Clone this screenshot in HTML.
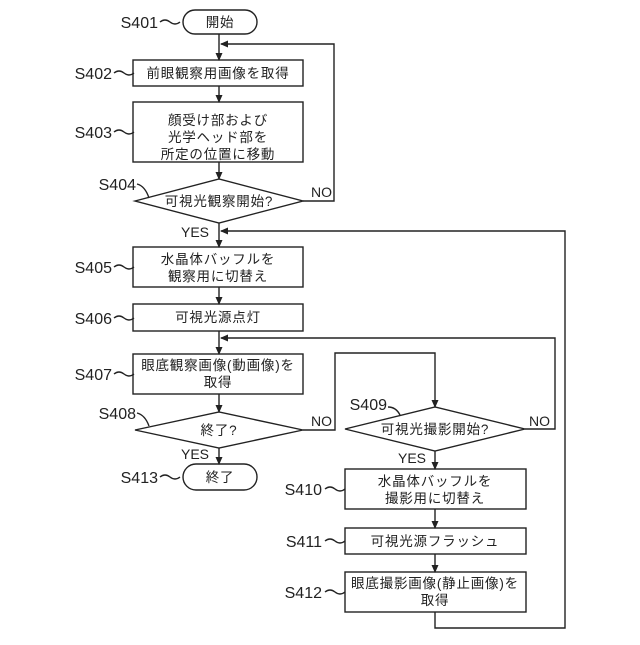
<!DOCTYPE html>
<html><head><meta charset="utf-8"><style>
body{margin:0;background:#fff}
svg text{font-family:"Liberation Sans","Noto Sans CJK JP",sans-serif;fill:#222}
</style></head><body>
<svg width="640" height="640" viewBox="0 0 640 640" xmlns="http://www.w3.org/2000/svg">
<defs><marker id="a" markerWidth="8" markerHeight="8" refX="7" refY="4" orient="auto" markerUnits="userSpaceOnUse"><path d="M0,0.5 L8,4 L0,7.5 Z" fill="#222"/></marker></defs>
<g fill="none" stroke="#222" stroke-width="1.4">
<rect x="183" y="10" width="74" height="24" rx="12"/>
<rect x="133" y="60" width="170" height="26"/>
<rect x="133" y="102" width="170" height="60"/>
<polygon points="135,201 219,179 303,201 219,223"/>
<rect x="133" y="247" width="170" height="40"/>
<rect x="133" y="304" width="170" height="27"/>
<rect x="133" y="354" width="170" height="40"/>
<polygon points="135,430 219,412 303,430 219,448"/>
<rect x="183" y="464" width="74" height="26" rx="13"/>
<polygon points="345,429 435,407 525,429 435,451"/>
<rect x="345" y="469" width="181" height="40"/>
<rect x="345" y="528" width="181" height="26"/>
<rect x="345" y="572" width="181" height="40"/>
<line x1="219" y1="34" x2="219" y2="60" marker-end="url(#a)"/>
<line x1="219" y1="86" x2="219" y2="102" marker-end="url(#a)"/>
<line x1="219" y1="162" x2="219" y2="179" marker-end="url(#a)"/>
<line x1="219" y1="223" x2="219" y2="247" marker-end="url(#a)"/>
<line x1="219" y1="287" x2="219" y2="304" marker-end="url(#a)"/>
<line x1="219" y1="331" x2="219" y2="354" marker-end="url(#a)"/>
<line x1="219" y1="394" x2="219" y2="412" marker-end="url(#a)"/>
<line x1="219" y1="448" x2="219" y2="464" marker-end="url(#a)"/>
<line x1="435" y1="451" x2="435" y2="469" marker-end="url(#a)"/>
<line x1="435" y1="509" x2="435" y2="528" marker-end="url(#a)"/>
<line x1="435" y1="554" x2="435" y2="572" marker-end="url(#a)"/>
<polyline points="303,201 334,201 334,44 221,44" marker-end="url(#a)"/>
<polyline points="435,612 435,628 565,628 565,231 221,231" marker-end="url(#a)"/>
<polyline points="525,429 555,429 555,338 221,338" marker-end="url(#a)"/>
<polyline points="303,430 335,430 335,353 435,353 435,407" marker-end="url(#a)"/>
<path d="M160,22 q5,-4 10,0 t10,0"/>
<path d="M114,73 q5,-4 10,0 t10,0"/>
<path d="M114,132 q5,-4 10,0 t10,0"/>
<path d="M137,184 q8,2 12,14"/>
<path d="M114,267 q5,-4 10,0 t10,0"/>
<path d="M114,318 q5,-4 10,0 t10,0"/>
<path d="M114,374 q5,-4 10,0 t10,0"/>
<path d="M137,413 q8,2 12,13"/>
<path d="M160,477 q5,-4 10,0 t10,0"/>
<path d="M388,407 q8,0 12,8"/>
<path d="M325,489 q5,-4 10,0 t10,0"/>
<path d="M325,541 q5,-4 10,0 t10,0"/>
<path d="M325,592 q5,-4 10,0 t10,0"/>
</g>
<g font-size="16" text-anchor="end">
<text x="158" y="28">S401</text>
<text x="112" y="79">S402</text>
<text x="112" y="138">S403</text>
<text x="136" y="190">S404</text>
<text x="112" y="273">S405</text>
<text x="112" y="324">S406</text>
<text x="112" y="380">S407</text>
<text x="136" y="419">S408</text>
<text x="158" y="483">S413</text>
<text x="387" y="410">S409</text>
<text x="322" y="495">S410</text>
<text x="322" y="547">S411</text>
<text x="322" y="598">S412</text>
</g>
<g font-size="13.5" text-anchor="middle" letter-spacing="0.8">
<text x="220" y="27">開始</text>
<text x="218" y="78">前眼観察用画像を取得</text>
<text x="218" y="125">顔受け部および</text>
<text x="218" y="142">光学ヘッド部を</text>
<text x="218" y="159">所定の位置に移動</text>
<text x="219" y="206">可視光観察開始?</text>
<text x="218" y="264">水晶体バッフルを</text>
<text x="218" y="281">観察用に切替え</text>
<text x="218" y="322">可視光源点灯</text>
<text x="218" y="370">眼底観察画像(動画像)を</text>
<text x="218" y="387">取得</text>
<text x="219" y="435">終了?</text>
<text x="220" y="482">終了</text>
<text x="435" y="434">可視光撮影開始?</text>
<text x="435" y="486">水晶体バッフルを</text>
<text x="435" y="503">撮影用に切替え</text>
<text x="435" y="546">可視光源フラッシュ</text>
<text x="435" y="588">眼底撮影画像(静止画像)を</text>
<text x="435" y="605">取得</text>
</g>
<g font-size="14">
<text x="311" y="197">NO</text>
<text x="181" y="237">YES</text>
<text x="311" y="426">NO</text>
<text x="181" y="459">YES</text>
<text x="529" y="426">NO</text>
<text x="398" y="463">YES</text>
</g>
</svg>
</body></html>
